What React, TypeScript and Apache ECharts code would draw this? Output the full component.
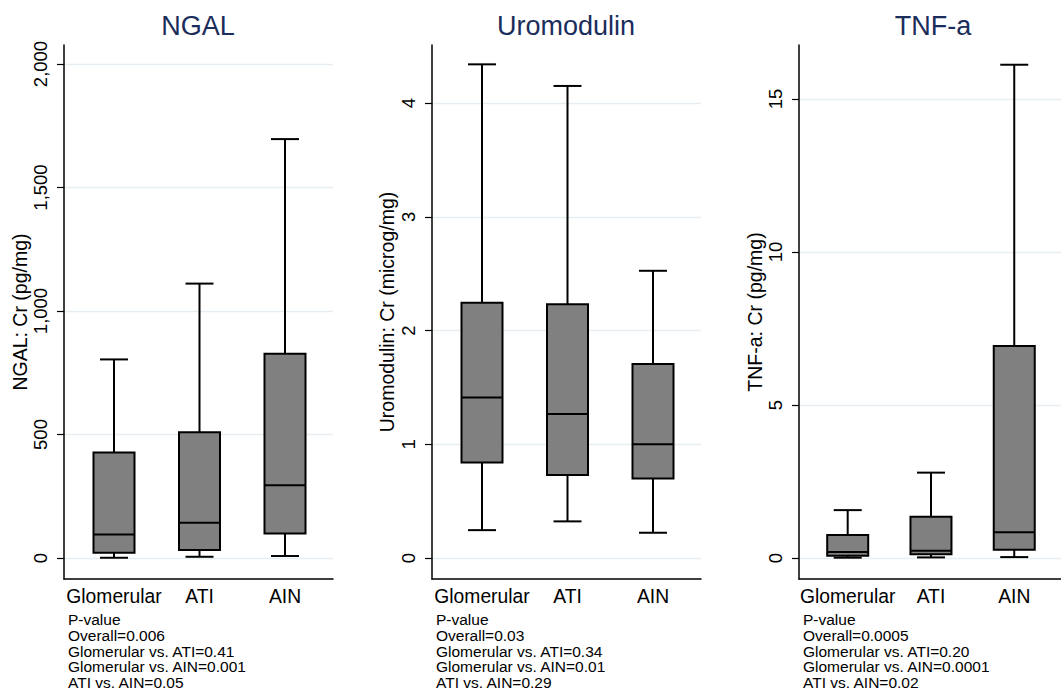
import React, { useEffect, useRef } from "react";
import * as echarts from "echarts";

// ---------- data ----------
const categories = ["Glomerular", "ATI", "AIN"];
const panelTitles = ["NGAL", "Uromodulin", "TNF-a"];
const axisNames = ["NGAL: Cr (pg/mg)", "Uromodulin: Cr (microg/mg)", "TNF-a: Cr (pg/mg)"];

// [min, Q1, median, Q3, max] per category
const ngalStats = [
  [1, 21, 95, 427, 804],
  [5, 32, 143, 509, 1111],
  [8, 99, 295, 827, 1696],
];
const uromodulinStats = [
  [0.245, 0.84, 1.41, 2.245, 4.34],
  [0.322, 0.73, 1.265, 2.23, 4.15],
  [0.222, 0.7, 1.0, 1.705, 2.525],
];
const tnfStats = [
  [0.01, 0.07, 0.2, 0.75, 1.565],
  [0.02, 0.12, 0.24, 1.35, 2.79],
  [0.03, 0.27, 0.84, 6.93, 16.12],
];

const ngalTicks = [0, 500, 1000, 1500, 2000];
const uromodulinTicks = [0, 1, 2, 3, 4];
const tnfTicks = [0, 5, 10, 15];

const ngalRange = [-85, 2077];
const uromodulinRange = [-0.1846, 4.51];
const tnfRange = [-0.686, 16.765];

const ngalNotes = [
  "P-value",
  "Overall=0.006",
  "Glomerular vs. ATI=0.41",
  "Glomerular vs. AIN=0.001",
  "ATI vs. AIN=0.05",
];
const uromodulinNotes = [
  "P-value",
  "Overall=0.03",
  "Glomerular vs. ATI=0.34",
  "Glomerular vs. AIN=0.01",
  "ATI vs. AIN=0.29",
];
const tnfNotes = [
  "P-value",
  "Overall=0.0005",
  "Glomerular vs. ATI=0.20",
  "Glomerular vs. AIN=0.0001",
  "ATI vs. AIN=0.02",
];

// ---------- layout ----------
const FONT = "'Liberation Sans', Arial, Helvetica, sans-serif";
const panelLeft = [64, 432, 799];
const plotWidth = 269;
const plotTop = 45;
const plotHeight = 534;
const xMin = 0.4152;
const xMax = 3.5614;
const nameGaps = [32.5, 35, 34];

const fmt = (v: number) =>
  Math.abs(v) >= 1000 ? v.toLocaleString("en-US") : String(v);

export default function App() {
  const ref = useRef<HTMLDivElement>(null);

  useEffect(() => {
    if (!ref.current) return;
    const chart = echarts.init(ref.current, undefined, { renderer: "svg" });

    const stats = [ngalStats, uromodulinStats, tnfStats];
    const ticks = [ngalTicks, uromodulinTicks, tnfTicks];
    const ranges = [ngalRange, uromodulinRange, tnfRange];
    const notes = [ngalNotes, uromodulinNotes, tnfNotes];

    const renderItem = (params: any, api: any) => {
      const x = api.value(0);
      const pMin = api.coord([x, api.value(1)]);
      const pQ1 = api.coord([x, api.value(2)]);
      const pMed = api.coord([x, api.value(3)]);
      const pQ3 = api.coord([x, api.value(4)]);
      const pMax = api.coord([x, api.value(5)]);
      const cx = pMin[0];
      const boxW = 41;
      const capW = 28;
      const lineStyle = { stroke: "#000", lineWidth: 2 };
      return {
        type: "group",
        children: [
          {
            type: "line",
            shape: { x1: cx, y1: pQ3[1], x2: cx, y2: pMax[1] },
            style: lineStyle,
          },
          {
            type: "line",
            shape: { x1: cx, y1: pQ1[1], x2: cx, y2: pMin[1] },
            style: lineStyle,
          },
          {
            type: "line",
            shape: { x1: cx - capW / 2, y1: pMax[1], x2: cx + capW / 2, y2: pMax[1] },
            style: lineStyle,
          },
          {
            type: "line",
            shape: { x1: cx - capW / 2, y1: pMin[1], x2: cx + capW / 2, y2: pMin[1] },
            style: lineStyle,
          },
          {
            type: "rect",
            shape: { x: cx - boxW / 2, y: pQ3[1], width: boxW, height: pQ1[1] - pQ3[1] },
            style: { fill: "#808080", stroke: "#000", lineWidth: 2 },
          },
          {
            type: "line",
            shape: { x1: cx - boxW / 2, y1: pMed[1], x2: cx + boxW / 2, y2: pMed[1] },
            style: lineStyle,
          },
        ],
      };
    };

    const grid = panelLeft.map((l) => ({
      left: l,
      top: plotTop,
      width: plotWidth,
      height: plotHeight,
      containLabel: false,
    }));

    const xAxis = panelLeft.map((_, i) => ({
      gridIndex: i,
      type: "value",
      min: xMin,
      max: xMax,
      axisLine: { show: true, onZero: false, lineStyle: { color: "#000", width: 1.5 } },
      axisTick: { show: false },
      splitLine: { show: false },
      axisLabel: {
        customValues: [1, 2, 3],
        formatter: (v: number) => categories[Math.round(v) - 1] ?? "",
        color: "#000",
        fontSize: 19.3,
        fontFamily: FONT,
        margin: 8,
      },
    }));

    const yAxis = panelLeft.map((_, i) => ({
      gridIndex: i,
      type: "value",
      min: ranges[i][0],
      max: ranges[i][1],
      name: axisNames[i],
      nameLocation: "middle",
      nameRotate: 90,
      nameGap: nameGaps[i],
      nameTextStyle: { color: "#000", fontSize: 19.5, fontFamily: FONT },
      axisLine: { show: true, onZero: false, lineStyle: { color: "#000", width: 1.5 } },
      axisTick: {
        show: true,
        customValues: ticks[i],
        length: 7,
        lineStyle: { color: "#000", width: 1.2 },
      },
      axisLabel: {
        customValues: ticks[i],
        rotate: 90,
        formatter: (v: number) => fmt(v),
        color: "#000",
        fontSize: 18.5,
        fontFamily: FONT,
        margin: 14,
      },
      splitLine: { show: true, lineStyle: { color: "#e6eef2", width: 1.3 } },
    }));

    const series = stats.map((s, i) => ({
      type: "custom",
      xAxisIndex: i,
      yAxisIndex: i,
      renderItem,
      encode: { x: 0, y: [1, 2, 3, 4, 5] },
      data: s.map((row, j) => [j + 1, ...row]),
      clip: false,
    }));

    const graphic: any[] = [];
    panelLeft.forEach((l, i) => {
      graphic.push({
        type: "text",
        x: l + plotWidth / 2 - 0.5,
        y: 25.5,
        style: {
          text: panelTitles[i],
          fill: "#1b2d5b",
          fontSize: 27,
          fontFamily: FONT,
          align: "center",
          verticalAlign: "middle",
        },
      });
      graphic.push({
        type: "text",
        x: l + 4,
        y: 612,
        style: {
          text: notes[i].join("\n"),
          fill: "#000",
          fontSize: 15.5,
          lineHeight: 15.6,
          fontFamily: FONT,
          align: "left",
          verticalAlign: "top",
        },
      });
    });

    chart.setOption({
      animation: false,
      backgroundColor: "#fff",
      textStyle: { fontFamily: FONT },
      grid,
      xAxis,
      yAxis,
      series,
      graphic,
    });

    return () => chart.dispose();
  }, []);

  return (
    <div
      ref={ref}
      style={{ position: "fixed", left: 0, top: 0, width: 1061, height: 691 }}
    />
  );
}
